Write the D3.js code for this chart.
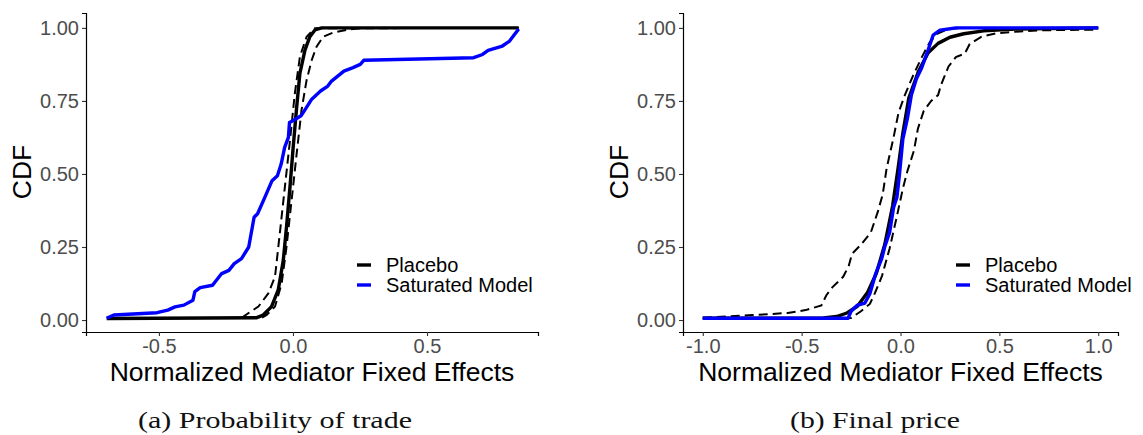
<!DOCTYPE html>
<html>
<head>
<meta charset="utf-8">
<script src="https://cdn.jsdelivr.net/npm/d3@7"></script>
<style>
  body { margin: 0; background: #fff; }
  svg text { font-family: "Liberation Sans", Arial, sans-serif; }
</style>
</head>
<body>
<script>
// ---- data: [normalized effect, CDF] ----
var yTicks = [0, 0.25, 0.5, 0.75, 1];
var tradeXTicks = [-0.5, 0, 0.5];
var priceXTicks = [-1, -0.5, 0, 0.5, 1];
var seriesNames = ["Placebo", "Saturated Model"];
var captions = ["(a) Probability of trade", "(b) Final price"];

// (a) probability of trade
var tradePlacebo = [[-0.695,0.005],[-0.135,0.008],[-0.111,0.017],[-0.080,0.046],[-0.055,0.103],
  [-0.036,0.205],[-0.024,0.32],[-0.011,0.457],[0.001,0.594],[0.014,0.731],[0.026,0.845],
  [0.045,0.925],[0.063,0.970],[0.082,0.993],[0.107,1.0],[0.842,1.0]];
var tradeLower = [[-0.19,0.008],[-0.167,0.023],[-0.129,0.046],[-0.092,0.091],[-0.067,0.148],
  [-0.049,0.297],[-0.030,0.457],[-0.011,0.616],[0.007,0.776],[0.026,0.902],[0.051,0.970],
  [0.082,0.999],[0.842,1.0]];
var tradeUpper = [[-0.115,0.008],[-0.098,0.017],[-0.067,0.046],[-0.042,0.126],[-0.024,0.251],
  [-0.005,0.411],[0.014,0.571],[0.032,0.719],[0.051,0.822],[0.070,0.890],[0.088,0.936],
  [0.113,0.970],[0.150,0.984],[0.200,0.993],[0.250,0.999],[0.842,1.0]];
var tradeSaturated = [[-0.695,0.006],[-0.668,0.017],[-0.507,0.025],[-0.467,0.034],[-0.44,0.045],
  [-0.407,0.051],[-0.373,0.068],[-0.366,0.097],[-0.346,0.111],[-0.30,0.119],[-0.266,0.159],
  [-0.239,0.170],[-0.219,0.193],[-0.192,0.210],[-0.165,0.25],[-0.145,0.352],[-0.132,0.364],
  [-0.105,0.42],[-0.078,0.477],[-0.058,0.494],[-0.044,0.534],[-0.031,0.591],[-0.017,0.625],
  [-0.013,0.676],[0.003,0.684],[0.03,0.699],[0.05,0.727],[0.07,0.756],[0.103,0.784],
  [0.13,0.801],[0.144,0.818],[0.19,0.852],[0.224,0.864],[0.251,0.875],[0.264,0.889],
  [0.674,0.898],[0.707,0.909],[0.728,0.923],[0.781,0.938],[0.808,0.955],[0.822,0.972],
  [0.842,0.996]];

// (b) final price
var pricePlacebo = [[-1.0,0.006],[-0.39,0.007],[-0.323,0.012],[-0.271,0.024],[-0.218,0.047],
  [-0.166,0.095],[-0.122,0.16],[-0.079,0.26],[-0.04,0.39],[-0.012,0.52],[0.012,0.64],
  [0.042,0.76],[0.09,0.85],[0.14,0.915],[0.19,0.947],[0.25,0.968],[0.32,0.98],
  [0.42,0.99],[0.58,0.996],[1.0,1.0]];
var priceLower = [[-1.0,0.008],[-0.75,0.017],[-0.57,0.024],[-0.48,0.034],[-0.4,0.05],
  [-0.375,0.085],[-0.345,0.112],[-0.29,0.148],[-0.262,0.185],[-0.245,0.227],[-0.2,0.258],
  [-0.15,0.3],[-0.115,0.37],[-0.09,0.43],[-0.07,0.52],[-0.035,0.625],[-0.01,0.71],
  [0.022,0.77],[0.063,0.836],[0.108,0.9],[0.147,0.95],[0.185,0.98],[0.236,0.995],
  [0.306,1.0],[1.0,1.0]];
var priceUpper = [[-1.0,0.006],[-0.25,0.007],[-0.2,0.03],[-0.155,0.055],[-0.13,0.091],
  [-0.093,0.152],[-0.055,0.245],[-0.02,0.35],[0.012,0.45],[0.035,0.51],[0.068,0.58],
  [0.088,0.655],[0.117,0.715],[0.155,0.75],[0.19,0.77],[0.205,0.805],[0.243,0.868],
  [0.28,0.9],[0.325,0.912],[0.35,0.945],[0.41,0.97],[0.48,0.981],[0.58,0.987],
  [0.73,0.992],[1.0,0.994]];
var priceSaturated = [[-1.0,0.006],[-0.265,0.006],[-0.25,0.03],[-0.22,0.05],[-0.18,0.058],
  [-0.155,0.09],[-0.125,0.16],[-0.095,0.21],[-0.08,0.25],[-0.055,0.3],[-0.035,0.385],
  [-0.018,0.42],[-0.005,0.5],[0.012,0.62],[0.035,0.69],[0.055,0.77],[0.08,0.825],
  [0.105,0.86],[0.14,0.925],[0.165,0.975],[0.2,0.992],[0.28,1.0],[1.0,1.0]];

var svg = d3.select("body").append("svg").attr("width", 1143).attr("height", 435);

// ggplot prints a plain hyphen, d3 a unicode minus
function fmt(spec) {
  var f = d3.format(spec);
  return function (d) { return f(d).replace("\u2212", "-"); };
}

function panel(opt) {
  var x = d3.scaleLinear().domain(opt.xDomain).range([opt.left, opt.right]);
  var y = d3.scaleLinear().domain([-0.041, 1.051]).range([332, 13]);
  var g = svg.append("g");

  var yAxis = g.append("g").attr("transform", "translate(" + opt.left + ",0)")
    .call(d3.axisLeft(y).tickValues(yTicks).tickFormat(fmt(".2f")).tickSizeOuter(0).tickSize(4).tickPadding(3));
  var xAxis = g.append("g").attr("transform", "translate(0,332)")
    .call(d3.axisBottom(x).tickValues(opt.xTicks).tickFormat(fmt(".1f")).tickSizeOuter(0).tickSize(4).tickPadding(3));
  [xAxis, yAxis].forEach(function (a) {
    a.select(".domain").attr("stroke", "#000").attr("stroke-width", 1.2);
    a.selectAll(".tick line").attr("stroke", "#333").attr("stroke-width", 1.1);
    a.selectAll(".tick text").attr("fill", "#4d4d4d").style("font-size", "20px")
      .style("font-family", "Liberation Sans, Arial, sans-serif");
  });

  var line = d3.line().x(function (d) { return x(d[0]); }).y(function (d) { return y(d[1]); });

  [opt.lower, opt.upper].forEach(function (s) {
    g.append("path").datum(s).attr("d", line).attr("fill", "none")
      .attr("stroke", "#000").attr("stroke-width", 2).attr("stroke-dasharray", "9,5");
  });
  g.append("path").datum(opt.placebo).attr("d", line).attr("fill", "none")
    .attr("stroke", "#000").attr("stroke-width", 3.4).attr("stroke-linejoin", "round");
  g.append("path").datum(opt.saturated).attr("d", line).attr("fill", "none")
    .attr("stroke", "#0000ff").attr("stroke-width", 3.4).attr("stroke-linejoin", "round");

  // axis titles
  g.append("text").attr("x", (opt.left + opt.right) / 2).attr("y", 381)
    .attr("text-anchor", "middle").style("font-size", "26.5px").attr("fill", "#000")
    .text("Normalized Mediator Fixed Effects");
  g.append("text").attr("transform", "translate(" + (opt.left - 55) + ",172) rotate(-90)")
    .attr("text-anchor", "middle").style("font-size", "26.5px").attr("fill", "#000")
    .text("CDF");

  // legend
  var leg = g.append("g").attr("transform", "translate(" + opt.legendX + ",265)");
  seriesNames.forEach(function (n, i) {
    leg.append("line").attr("x1", 0).attr("x2", 14).attr("y1", i * 20).attr("y2", i * 20)
      .attr("stroke", i === 0 ? "#000" : "#0000ff").attr("stroke-width", 3.4);
    leg.append("text").attr("x", 29).attr("y", i * 20 + 7).style("font-size", "20px")
      .attr("fill", "#000").text(n);
  });

  // caption
  g.append("text").attr("x", opt.capX).attr("y", 428).attr("text-anchor", "middle")
    .style("font-family", "Liberation Serif, Times New Roman, serif").style("font-size", "24px")
    .attr("fill", "#111").attr("textLength", opt.capW).attr("lengthAdjust", "spacingAndGlyphs")
    .text(opt.caption);
}

panel({ left: 86, right: 538, xDomain: [-0.772, 0.914], xTicks: tradeXTicks,
  placebo: tradePlacebo, lower: tradeLower, upper: tradeUpper, saturated: tradeSaturated,
  legendX: 357, capX: 275, capW: 274, caption: captions[0] });
panel({ left: 683, right: 1118, xDomain: [-1.1, 1.1], xTicks: priceXTicks,
  placebo: pricePlacebo, lower: priceLower, upper: priceUpper, saturated: priceSaturated,
  legendX: 956, capX: 875, capW: 170, caption: captions[1] });
</script>
</body>
</html>
